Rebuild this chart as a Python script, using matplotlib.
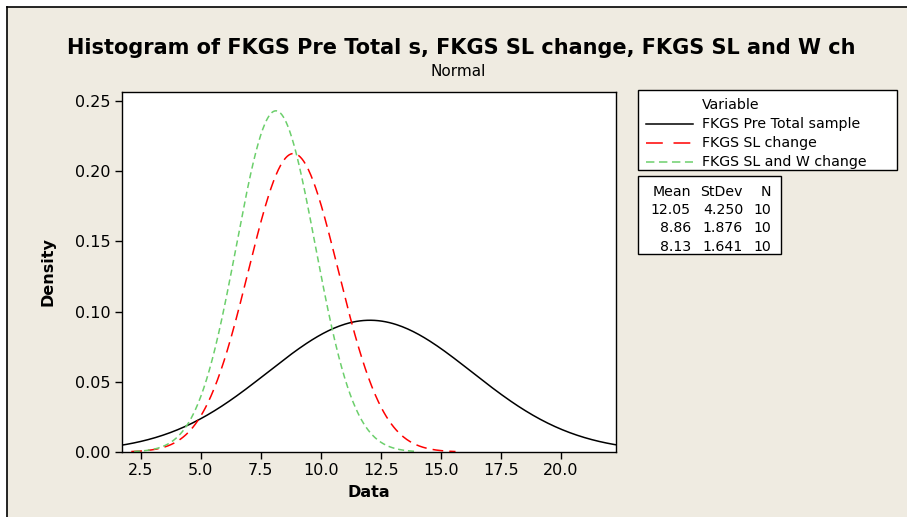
import numpy as np
import matplotlib
matplotlib.use("Agg")
import matplotlib.pyplot as plt
from matplotlib.patches import Rectangle
from matplotlib.lines import Line2D
from matplotlib.ticker import FormatStrFormatter

variables = ["FKGS Pre Total sample", "FKGS SL change", "FKGS SL and W change"]
means = [12.05, 8.86, 8.13]
stdevs = [4.250, 1.876, 1.641]
counts = [10, 10, 10]
mean_labels = ["12.05", "8.86", "8.13"]
sd_labels = ["4.250", "1.876", "1.641"]
colors = ["black", "#FF0000", "#6CCF6C"]
dashes = [None, (7, 4), (4, 2.5)]
legend_dashes = [None, (11, 7), (5.5, 3)]
xticks = [2.5, 5.0, 7.5, 10.0, 12.5, 15.0, 17.5, 20.0]
yticks = [0.00, 0.05, 0.10, 0.15, 0.20, 0.25]

W, H = 907, 517
fig = plt.figure(figsize=(W / 100, H / 100), dpi=100)
fig.patch.set_facecolor("white")

def fx(px):
    return px / W

def fy(py):
    return 1 - py / H

# beige background with top/left border
fig.patches.append(Rectangle((fx(7), 0), 1, fy(7), transform=fig.transFigure,
                             facecolor="#EFEBE1", edgecolor="none", zorder=-10))
fig.lines.append(Line2D([fx(7), 1], [fy(7), fy(7)], transform=fig.transFigure,
                        color="black", lw=1.2, zorder=-5))
fig.lines.append(Line2D([fx(7), fx(7)], [0, fy(7)], transform=fig.transFigure,
                        color="black", lw=1.2, zorder=-5))

ax = fig.add_axes([fx(122), fy(452), fx(616) - fx(122), fy(92) - fy(452)])
ax.set_zorder(1)
ax.set_facecolor("white")

for m, s, c, d in zip(means, stdevs, colors, dashes):
    x = np.linspace(m - 3.6 * s, m + 3.6 * s, 400)
    y = np.exp(-0.5 * ((x - m) / s) ** 2) / (s * np.sqrt(2 * np.pi))
    ln, = ax.plot(x, y, color=c, lw=1.1)
    if d is not None:
        ln.set_dashes(d)

ax.set_xlim(1.72, 22.3)
ax.set_ylim(0, 0.2565)
ax.set_xticks(xticks)
ax.set_yticks(yticks)
ax.xaxis.set_major_formatter(FormatStrFormatter("%.1f"))
ax.yaxis.set_major_formatter(FormatStrFormatter("%.2f"))
ax.tick_params(direction="out", length=5, width=1, labelsize=11.5, colors="black", pad=3)
for sp in ax.spines.values():
    sp.set_linewidth(1)
ax.set_xlabel("Data", fontsize=11.5, fontweight="bold", labelpad=5)
ax.set_ylabel("Density", fontsize=11.5, fontweight="bold", labelpad=14)

fig.text(fx(461), fy(48), "Histogram of FKGS Pre Total s, FKGS SL change, FKGS SL and W ch",
         ha="center", va="center", fontsize=15, fontweight="bold")
fig.text(fx(458), fy(71), "Normal", ha="center", va="center", fontsize=11)

fs = 10.2
# legend box 1
fig.patches.append(Rectangle((fx(638), fy(170)), fx(897) - fx(638), fy(90) - fy(170),
                             transform=fig.transFigure, facecolor="white",
                             edgecolor="black", lw=1, zorder=2))
fig.text(fx(702), fy(105), "Variable", ha="left", va="center", fontsize=fs, zorder=3)
ys = [124, 143, 162]
for name, c, d, yy in zip(variables, colors, legend_dashes, ys):
    l = Line2D([fx(646), fx(693)], [fy(yy), fy(yy)], transform=fig.transFigure,
               color=c, lw=1.1, zorder=3)
    if d is not None:
        l.set_dashes(d)
    fig.lines.append(l)
    fig.text(fx(702), fy(yy), name, ha="left", va="center", fontsize=fs, zorder=3)

# legend box 2
fig.patches.append(Rectangle((fx(638), fy(254)), fx(781) - fx(638), fy(176) - fy(254),
                             transform=fig.transFigure, facecolor="white",
                             edgecolor="black", lw=1, zorder=2))
fig.text(fx(691), fy(192), "Mean", ha="right", va="center", fontsize=fs, zorder=3)
fig.text(fx(743), fy(192), "StDev", ha="right", va="center", fontsize=fs, zorder=3)
fig.text(fx(771), fy(192), "N", ha="right", va="center", fontsize=fs, zorder=3)
for ml, sl, n, yy in zip(mean_labels, sd_labels, counts, [210, 228, 247]):
    fig.text(fx(691), fy(yy), ml, ha="right", va="center", fontsize=fs, zorder=3)
    fig.text(fx(743), fy(yy), sl, ha="right", va="center", fontsize=fs, zorder=3)
    fig.text(fx(771), fy(yy), str(n), ha="right", va="center", fontsize=fs, zorder=3)

fig.savefig("out.png", dpi=100, facecolor=fig.get_facecolor())
